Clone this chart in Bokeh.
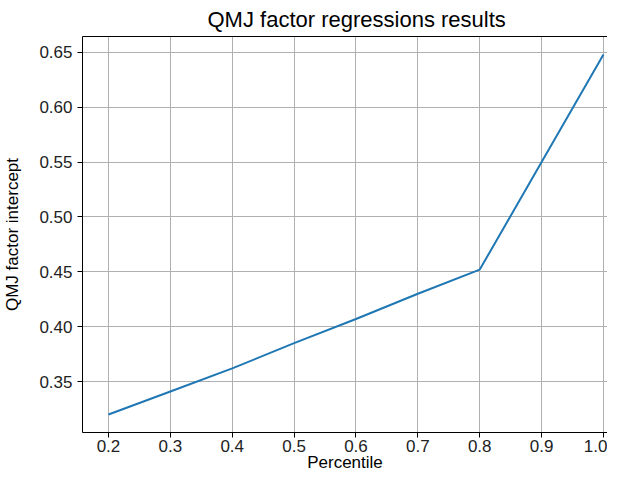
from bokeh.plotting import figure
from bokeh.models import Range1d, FixedTicker, NumeralTickFormatter, LinearAxis
from bokeh.embed import file_html
from bokeh.resources import INLINE

percentile = [0.2, 0.3, 0.4, 0.5, 0.6, 0.7, 0.8, 0.9, 1.0]
intercept = [0.320, 0.341, 0.362, 0.385, 0.407, 0.430, 0.452, 0.550, 0.648]
x_ticks = [0.2, 0.3, 0.4, 0.5, 0.6, 0.7, 0.8, 0.9, 1.0]
y_ticks = [0.35, 0.40, 0.45, 0.50, 0.55, 0.60, 0.65]
title_text = "QMJ factor regressions results"
x_label = "Percentile"
y_label = "QMJ factor intercept"

FONT = "Liberation Sans"

p = figure(width=607, height=474, output_backend="svg", toolbar_location=None,
           x_range=Range1d(0.158, 1.0065), y_range=Range1d(0.3036, 0.6644),
           min_border_left=77, min_border_right=0, min_border_top=0, min_border_bottom=0,
           title=title_text)
p.title.align = "left"
p.title.text_font = FONT
p.title.text_font_size = "22px"
p.title.text_font_style = "normal"
p.title.text_color = "#000000"
p.title.standoff = 9
p.title.offset = 125

p.line(percentile, intercept, line_color="#1f77b4", line_width=2)

xax = p.below[0]
yax = p.left[0]

p.outline_line_color = None
top = LinearAxis(major_tick_line_color=None, minor_tick_line_color=None,
                 major_label_text_font_size="0px", axis_line_color="#000000",
                 ticker=FixedTicker(ticks=[]))
p.add_layout(top, "above")

for ax in (xax, yax):
    ax.axis_line_color = "#000000"
    ax.axis_line_width = 1
    ax.major_tick_line_color = "#000000"
    ax.major_tick_out = 5
    ax.major_tick_in = 0
    ax.minor_tick_line_color = None
    ax.major_label_text_font = FONT
    ax.major_label_text_font_size = "17px"
    ax.major_label_text_color = "#222222"
    ax.axis_label_text_font = FONT
    ax.axis_label_text_font_size = "17px"
    ax.axis_label_text_font_style = "normal"
    ax.axis_label_text_color = "#000000"

xax.ticker = FixedTicker(ticks=x_ticks)
xax.formatter = NumeralTickFormatter(format="0.0")
xax.major_label_standoff = 2
xax.axis_label = x_label
xax.axis_label_standoff = -2
yax.ticker = FixedTicker(ticks=y_ticks)
yax.formatter = NumeralTickFormatter(format="0.00")
yax.major_label_standoff = 5
yax.axis_label = y_label
yax.axis_label_standoff = 14

p.xgrid.ticker = FixedTicker(ticks=x_ticks)
p.ygrid.ticker = FixedTicker(ticks=y_ticks)
p.grid.grid_line_color = "#b0b0b0"
p.grid.grid_line_width = 1

open("out.html", "w").write(file_html(p, INLINE))
